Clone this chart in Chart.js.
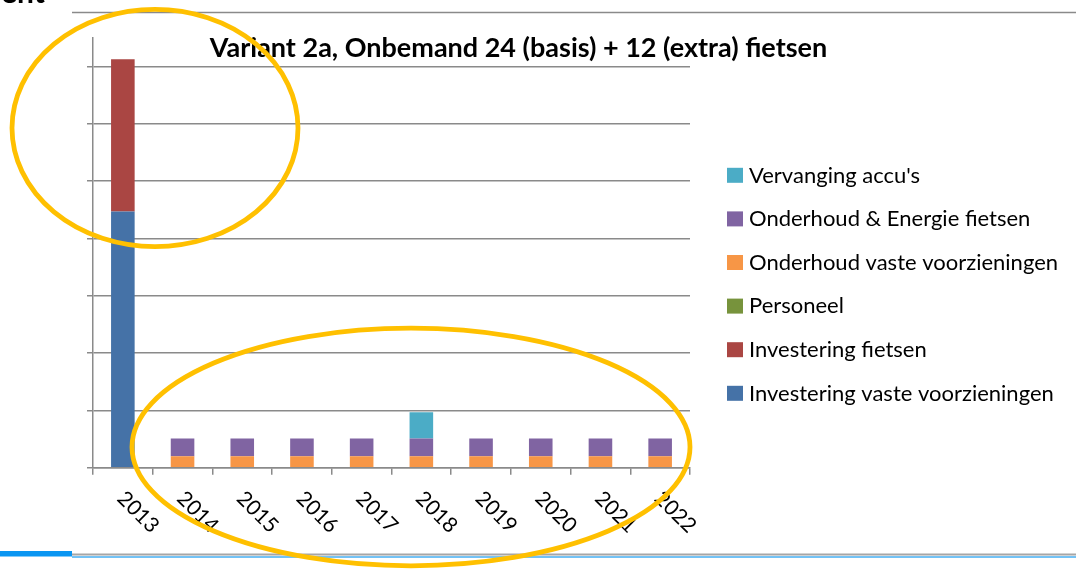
<!DOCTYPE html>
<html>
<head>
<meta charset="utf-8">
<script src="https://cdn.jsdelivr.net/npm/chart.js@4.4.1/dist/chart.umd.min.js"></script>
<style>
  html, body { margin: 0; padding: 0; background: #ffffff; }
  canvas { display: block; }
</style>
</head>
<body>
<canvas id="c" width="1076" height="569"></canvas>
<script>
// ---- Data (in units of one gridline) ----
const years = ['2013', '2014', '2015', '2016', '2017', '2018', '2019', '2020', '2021', '2022'];
const investeringVasteVoorzieningen = [4.47, 0, 0, 0, 0, 0, 0, 0, 0, 0];
const investeringFietsen            = [2.66, 0, 0, 0, 0, 0, 0, 0, 0, 0];
const personeel                     = [0, 0, 0, 0, 0, 0, 0, 0, 0, 0];
const onderhoudVasteVoorzieningen   = [0, 0.20, 0.20, 0.20, 0.20, 0.20, 0.20, 0.20, 0.20, 0.20];
const onderhoudEnergieFietsen       = [0, 0.31, 0.31, 0.31, 0.31, 0.31, 0.31, 0.31, 0.31, 0.31];
const vervangingAccus               = [0, 0, 0, 0, 0, 0.46, 0, 0, 0, 0];

const seriesNames = [
  'Investering vaste voorzieningen',
  'Investering fietsen',
  'Personeel',
  'Onderhoud vaste voorzieningen',
  'Onderhoud & Energie fietsen',
  "Vervanging accu's"
];
const titleText = 'Variant 2a, Onbemand 24 (basis) + 12 (extra) fietsen';

const colors = ['#4572A7', '#AA4643', '#77933C', '#F79646', '#8064A2', '#4BACC6'];
const seriesData = [investeringVasteVoorzieningen, investeringFietsen, personeel,
                    onderhoudVasteVoorzieningen, onderhoudEnergieFietsen, vervangingAccus];

const GRID = '#8a8a8a';
const FONT = 'Lato, "Open Sans", "DejaVu Sans", sans-serif';

const decorPlugin = {
  id: 'decor',
  beforeDraw(chart) {
    const ctx = chart.ctx;
    ctx.save();
    ctx.fillStyle = '#ffffff';
    ctx.fillRect(0, 0, chart.width, chart.height);
    ctx.restore();
  },
  afterDraw(chart) {
    const ctx = chart.ctx;
    const xs = chart.scales.x;
    ctx.save();

    // slide lines
    ctx.strokeStyle = GRID;
    ctx.lineWidth = 1.5;
    ctx.beginPath(); ctx.moveTo(72, 12.5); ctx.lineTo(1076, 12.5); ctx.stroke();
    ctx.fillStyle = '#0a96f2';
    ctx.fillRect(0, 551, 72, 5.5);
    ctx.strokeStyle = '#a6a6a6'; ctx.lineWidth = 2.2;
    ctx.beginPath(); ctx.moveTo(72, 554.5); ctx.lineTo(1076, 554.5); ctx.stroke();
    ctx.strokeStyle = '#45aef2'; ctx.lineWidth = 1.5;
    ctx.beginPath(); ctx.moveTo(72, 557); ctx.lineTo(1076, 557); ctx.stroke();

    // cut-off slide heading
    ctx.fillStyle = '#000000';
    ctx.font = 'bold 30px ' + FONT;
    ctx.textAlign = 'left';
    ctx.textBaseline = 'alphabetic';
    ctx.fillText('ent', 1, 3);

    // title
    ctx.font = 'bold 27px ' + FONT;
    ctx.textAlign = 'center';
    ctx.fillText(titleText, 518.5, 57);

    // rotated category labels
    ctx.font = '21px ' + FONT;
    ctx.textAlign = 'left';
    ctx.textBaseline = 'middle';
    years.forEach((y, i) => {
      const cx = xs.getPixelForValue(i);
      ctx.save();
      ctx.translate(cx - 2, 495);
      ctx.rotate(Math.PI / 4);
      ctx.fillText(y, 0, 0);
      ctx.restore();
    });

    // legend (reversed order)
    ctx.font = '22px ' + FONT;
    ctx.textBaseline = 'alphabetic';
    const ds = chart.data.datasets;
    for (let k = 0; k < ds.length; k++) {
      const d = ds[ds.length - 1 - k];
      const cy = 175.3 + k * 43.6;
      ctx.fillStyle = d.backgroundColor;
      ctx.fillRect(727, cy - 7.5, 16, 15);
      ctx.fillStyle = '#000000';
      ctx.fillText(d.label, 749, cy + 7.2);
    }

    // annotation ellipses
    ctx.strokeStyle = '#FFC000';
    ctx.lineWidth = 4.8;
    ctx.beginPath(); ctx.ellipse(155, 128, 143, 118.6, 0, 0, Math.PI * 2); ctx.stroke();
    ctx.beginPath(); ctx.ellipse(411, 447, 279, 118.8, 0, 0, Math.PI * 2); ctx.stroke();

    ctx.restore();
  }
};

new Chart(document.getElementById('c'), {
  type: 'bar',
  data: {
    labels: years,
    datasets: seriesNames.map((name, i) => ({
      label: name,
      data: seriesData[i],
      backgroundColor: colors[i],
      borderWidth: 0,
      barPercentage: 0.395,
      categoryPercentage: 1.0
    }))
  },
  options: {
    responsive: false,
    animation: false,
    devicePixelRatio: 1,
    layout: { padding: { left: 0, right: 386, top: 38, bottom: 0 } },
    plugins: {
      legend: { display: false },
      title: { display: false },
      tooltip: { enabled: false }
    },
    scales: {
      x: {
        stacked: true,
        ticks: { display: false },
        grid: { drawOnChartArea: false, drawTicks: true, tickLength: 7, color: GRID, lineWidth: 1.5 },
        border: { color: GRID, width: 1.5 },
        afterFit: (s) => { s.height = 101.3; }
      },
      y: {
        stacked: true,
        min: 0,
        max: 7.5,
        ticks: { display: false, stepSize: 1, includeBounds: false },
        grid: { drawTicks: true, tickLength: 6, color: GRID, lineWidth: 1.5 },
        border: { color: GRID, width: 1.5 },
        afterFit: (s) => { s.width = 93; }
      }
    }
  },
  plugins: [decorPlugin]
});
</script>
</body>
</html>
